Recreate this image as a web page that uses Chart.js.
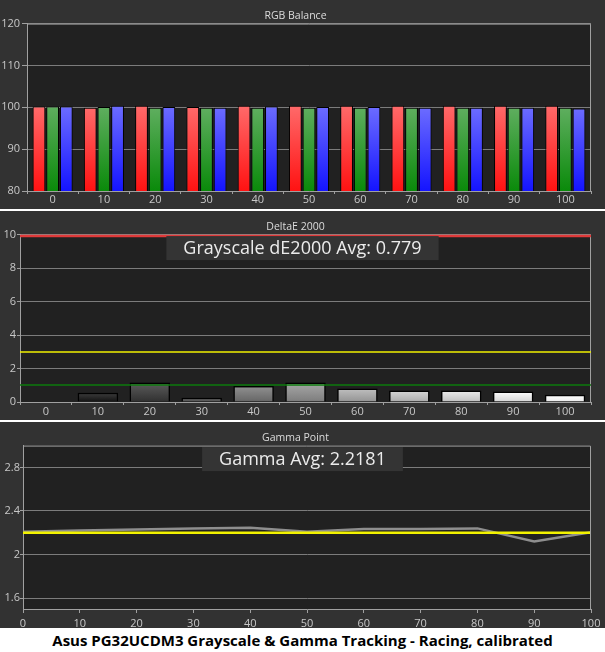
<!DOCTYPE html>
<html>
<head>
<meta charset="utf-8">
<script src="https://cdn.jsdelivr.net/npm/chart.js@4.4.1/dist/chart.umd.min.js"></script>
<style>
  html, body { margin: 0; padding: 0; background: #fff; }
  #wrap { position: relative; width: 605px; height: 652px; overflow: hidden; background: #fff; }
  .panel { position: absolute; left: 0; width: 605px; background: #323232; }
  #p1 { top: 0; height: 209px; }
  #p2 { top: 211px; height: 209px; }
  #p3 { top: 422px; height: 206px; }
  #caption {
    position: absolute; left: 0; top: 630px; width: 605px; height: 22px;
    text-align: center; line-height: 22px; color: #000;
    font: bold 15px "Open Sans", "Noto Sans", sans-serif;
  }
</style>
</head>
<body>
<div id="wrap">
  <div class="panel" id="p1"><canvas id="rgbChart"></canvas></div>
  <div class="panel" id="p2"><canvas id="deltaChart"></canvas></div>
  <div class="panel" id="p3"><canvas id="gammaChart"></canvas></div>
  <div id="caption">Asus PG32UCDM3 Grayscale &amp; Gamma Tracking - Racing, calibrated</div>
</div>
<script>
// grayscale steps (% stimulus)
const levels = [0, 10, 20, 30, 40, 50, 60, 70, 80, 90, 100];

// RGB balance (%)
const redBalance   = [100.2, 99.9, 100.4, 100.1, 100.4, 100.4, 100.4, 100.4, 100.4, 100.4, 100.4];
const greenBalance = [100.2, 100.1, 99.9, 99.9, 99.9, 99.9, 99.9, 99.9, 99.9, 99.9, 99.9];
const blueBalance  = [100.2, 100.4, 100.1, 99.9, 100.2, 100.1, 100.1, 99.9, 99.9, 99.9, 99.7];

// DeltaE 2000 per step + reference lines
const deltaE = [0, 0.56, 1.16, 0.26, 0.95, 1.16, 0.8, 0.68, 0.68, 0.62, 0.44];
const deltaLimits = [10, 3, 1];
const deltaAvgText = "Grayscale dE2000 Avg: 0.779";

// gamma per step + target
const gammaMeasured = [2.21, 2.22, 2.23, 2.24, 2.245, 2.21, 2.235, 2.235, 2.24, 2.12, 2.205];
const gammaTarget   = [2.2, 2.2, 2.2, 2.2, 2.2, 2.2, 2.2, 2.2, 2.2, 2.2, 2.2];
const gammaTicks = [1.6, 2, 2.4, 2.8];
const gammaAvgText = "Gamma Avg: 2.2181";

const FONT = '"Open Sans", "Noto Sans", sans-serif';
const TICK_COLOR = '#c8c8c8';
const GRID_COLOR = '#7c7c7c';
const AXIS_COLOR = '#a0a0a0';
const limitColors = ['#e03a3a', '#f0f000', '#0c7a0c'];

Chart.defaults.font.family = FONT;
Chart.defaults.animation = false;

// gradient from bar top down to its base
function barGradient(c, topColor, bottomColor) {
  const chart = c.chart;
  if (c.type !== 'data' || !chart.chartArea) return bottomColor;
  const y = chart.scales.y;
  const top = y.getPixelForValue(c.raw);
  const bottom = y.getBasePixel();
  if (!isFinite(top) || Math.abs(bottom - top) < 1) return bottomColor;
  const g = chart.ctx.createLinearGradient(0, top, 0, bottom);
  g.addColorStop(0, topColor);
  g.addColorStop(1, bottomColor);
  return g;
}

function grayShade(level, shift) {
  let v = Math.round(255 * Math.pow(level / 100, 0.8)) + shift;
  v = Math.max(0, Math.min(255, v));
  return `rgb(${v},${v},${v})`;
}

// plot background, frame, limit lines and the avg box
const framePlugin = {
  id: 'frame',
  beforeDraw(chart) {
    const { ctx, chartArea: a } = chart;
    ctx.save();
    ctx.fillStyle = '#212121';
    ctx.fillRect(a.left, a.top, a.right - a.left, a.bottom - a.top);
    ctx.restore();
  },
  afterDatasetsDraw(chart, args, opts) {
    const { ctx, chartArea: a } = chart;
    ctx.save();
    ctx.strokeStyle = AXIS_COLOR;
    ctx.lineWidth = 1;
    ctx.beginPath();
    ctx.moveTo(a.left, a.top + 0.5);
    ctx.lineTo(a.right - 0.5, a.top + 0.5);
    ctx.lineTo(a.right - 0.5, a.bottom);
    ctx.stroke();

    if (opts.limits) {
      const y = chart.scales.y;
      opts.limits.forEach((v, i) => {
        const py = Math.round(y.getPixelForValue(v));
        ctx.strokeStyle = limitColors[i];
        ctx.lineWidth = i === 0 ? 2.5 : 1.5;
        ctx.beginPath();
        ctx.moveTo(a.left, i === 0 ? py + 1 : py);
        ctx.lineTo(a.right, i === 0 ? py + 1 : py);
        ctx.stroke();
      });
    }

    if (opts.label) {
      ctx.font = '18px ' + FONT;
      const w = ctx.measureText(opts.label).width + 34;
      const h = 24;
      const x = chart.width / 2 - w / 2;
      const top = a.top + 1.5;
      ctx.fillStyle = '#343434';
      ctx.fillRect(x, top, w, h);
      ctx.fillStyle = '#ececec';
      ctx.textAlign = 'center';
      ctx.textBaseline = 'middle';
      ctx.fillText(opts.label, chart.width / 2, top + h / 2 + 1);
    }
    ctx.restore();
  }
};

function titleOpts(text) {
  return {
    display: true,
    text: text,
    color: '#dcdcdc',
    font: { size: 10.5, weight: 'normal' },
    padding: { top: 10, bottom: 1 }
  };
}

// RGB Balance
new Chart(document.getElementById('rgbChart'), {
  type: 'bar',
  data: {
    labels: levels,
    datasets: [
      { data: redBalance, backgroundColor: c => barGradient(c, '#ff6a6a', '#ff1212') },
      { data: greenBalance, backgroundColor: c => barGradient(c, '#5fae5f', '#0a8a0a') },
      { data: blueBalance, backgroundColor: c => barGradient(c, '#6c6cff', '#1414ff') }
    ]
  },
  options: {
    responsive: true,
    maintainAspectRatio: false,
    layout: { padding: { right: 14 } },
    datasets: {
      bar: { borderColor: '#000', borderWidth: 1, categoryPercentage: 0.8, barPercentage: 0.93 }
    },
    plugins: {
      legend: { display: false },
      tooltip: { enabled: false },
      title: titleOpts('RGB Balance'),
      frame: {}
    },
    scales: {
      x: {
        grid: { display: true, drawOnChartArea: false, offset: true, tickLength: 3, tickColor: AXIS_COLOR },
        border: { color: AXIS_COLOR },
        ticks: { color: TICK_COLOR, font: { size: 11 }, padding: -1 },
        afterFit: s => { s.height = 18; }
      },
      y: {
        min: 80, max: 120,
        grid: { color: GRID_COLOR, tickLength: 5, tickColor: AXIS_COLOR },
        border: { color: AXIS_COLOR },
        ticks: { stepSize: 10, color: TICK_COLOR, font: { size: 11 }, padding: 2 },
        afterFit: s => { s.width = 27; }
      }
    }
  },
  plugins: [framePlugin]
});

// DeltaE 2000
new Chart(document.getElementById('deltaChart'), {
  type: 'bar',
  data: {
    labels: levels,
    datasets: [{
      data: deltaE,
      backgroundColor: c => barGradient(c, grayShade(levels[c.dataIndex], 22), grayShade(levels[c.dataIndex], -22)),
      borderColor: '#000',
      borderWidth: 1.5,
      categoryPercentage: 1,
      barPercentage: 0.78
    }]
  },
  options: {
    responsive: true,
    maintainAspectRatio: false,
    layout: { padding: { right: 14 } },
    plugins: {
      legend: { display: false },
      tooltip: { enabled: false },
      title: titleOpts('DeltaE 2000'),
      frame: { limits: deltaLimits, label: deltaAvgText }
    },
    scales: {
      x: {
        grid: { display: true, drawOnChartArea: false, offset: true, tickLength: 3, tickColor: AXIS_COLOR },
        border: { color: AXIS_COLOR },
        ticks: { color: TICK_COLOR, font: { size: 11 }, padding: 0 },
        afterFit: s => { s.height = 18; }
      },
      y: {
        min: 0, max: 10,
        grid: { color: GRID_COLOR, tickLength: 3, tickColor: AXIS_COLOR },
        border: { color: AXIS_COLOR },
        ticks: { stepSize: 2, color: TICK_COLOR, font: { size: 11 }, padding: 1 },
        afterFit: s => { s.width = 20; }
      }
    }
  },
  plugins: [framePlugin]
});

// Gamma Point
new Chart(document.getElementById('gammaChart'), {
  type: 'line',
  data: {
    datasets: [
      {
        data: levels.map((x, i) => ({ x: x, y: gammaTarget[i] })),
        borderColor: '#f2f200', borderWidth: 2.5, pointRadius: 0, order: 0
      },
      {
        data: levels.map((x, i) => ({ x: x, y: gammaMeasured[i] })),
        borderColor: '#8e8e8e', borderWidth: 2.5, pointRadius: 0, order: 1
      }
    ]
  },
  options: {
    responsive: true,
    maintainAspectRatio: false,
    layout: { padding: { right: 14 } },
    plugins: {
      legend: { display: false },
      tooltip: { enabled: false },
      title: titleOpts('Gamma Point'),
      frame: { label: gammaAvgText }
    },
    scales: {
      x: {
        type: 'linear', min: 0, max: 100,
        grid: { display: true, drawOnChartArea: false, tickLength: 4, tickColor: AXIS_COLOR },
        border: { color: AXIS_COLOR },
        ticks: { stepSize: 10, color: TICK_COLOR, font: { size: 11 }, padding: 4 },
        afterFit: s => { s.height = 19; }
      },
      y: {
        min: 1.5, max: 3.0,
        afterBuildTicks: s => { s.ticks = gammaTicks.map(v => ({ value: v })); },
        grid: { color: GRID_COLOR, tickLength: 3, tickColor: AXIS_COLOR },
        border: { color: AXIS_COLOR },
        ticks: { color: TICK_COLOR, font: { size: 11 }, padding: 0, callback: v => String(+v.toFixed(1)) },
        afterFit: s => { s.width = 23; }
      }
    }
  },
  plugins: [framePlugin]
});
</script>
</body>
</html>
